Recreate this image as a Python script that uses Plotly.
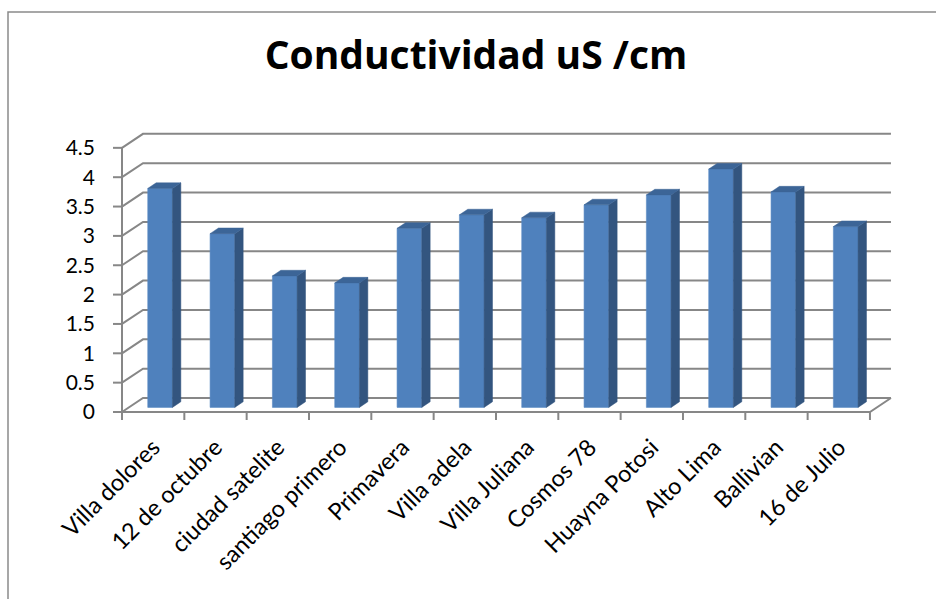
import plotly.graph_objects as go

# Data
categories = ["Villa dolores", "12 de octubre", "ciudad satelite", "santiago primero",
              "Primavera", "Villa adela", "Villa Juliana", "Cosmos 78",
              "Huayna Potosi", "Alto Lima", "Ballivian", "16 de Julio"]
conductividad = [3.73, 2.96, 2.24, 2.12, 3.05, 3.28, 3.23, 3.45, 3.62, 4.06, 3.67, 3.08]
y_ticks = [0, 0.5, 1, 1.5, 2, 2.5, 3, 3.5, 4, 4.5]
y_tick_labels = ["0", "0.5", "1", "1.5", "2", "2.5", "3", "3.5", "4", "4.5"]
title_text = "Conductividad uS /cm"

# Geometry of the pseudo-3D box (pixels per data unit and depth offsets)
W, H = 936, 599
XU, YU = 62.33, 58.7
DX, DY = 21 / XU, 14 / YU          # back wall offset in data units
F0, F1 = 0.33, 0.73                # front / back depth fraction of each column
BW = 0.396                         # column width in category units
ML, MR, MT, MB = 110, 41, 125, 177
x0 = -0.5 - 12 / XU
x1 = x0 + (W - ML - MR) / XU
y0 = -10 / YU
y1 = y0 + (H - MT - MB) / YU

FRONT = "#4F81BD"
SIDE = "#33557F"
TOP = "#3C6597"
GRID = "#878787"

n = len(categories)
idx = list(range(n))
xb_back = n - 0.5 + DX
ymax = y_ticks[-1]

fig = go.Figure()

# Front faces of the columns
fig.add_trace(go.Bar(
    x=[i + F0 * DX for i in idx], y=conductividad, base=F0 * DY, width=BW,
    marker=dict(color=FRONT, line=dict(color="#5B8BC4", width=0.6)),
    hoverinfo="skip", showlegend=False,
))

# Side and top faces of the columns
dd = F1 - F0
sx, sy, tx, ty = [], [], [], []
for i, v in zip(idx, conductividad):
    xl = i + F0 * DX - BW / 2
    xr = i + F0 * DX + BW / 2
    b = F0 * DY
    sx += [xr, xr + dd * DX, xr + dd * DX, xr, xr, None]
    sy += [b, b + dd * DY, b + v + dd * DY, b + v, b, None]
    tx += [xl, xr, xr + dd * DX, xl + dd * DX, xl, None]
    ty += [b + v, b + v, b + v + dd * DY, b + v + dd * DY, b + v, None]
fig.add_trace(go.Scatter(x=sx, y=sy, mode="lines", fill="toself", fillcolor=SIDE,
                         line=dict(color=SIDE, width=0.5), hoverinfo="skip", showlegend=False))
fig.add_trace(go.Scatter(x=tx, y=ty, mode="lines", fill="toself", fillcolor=TOP,
                         line=dict(color=TOP, width=0.5), hoverinfo="skip", showlegend=False))

shapes = []
line_style = dict(color=GRID, width=2)
# Gridlines: diagonal on the side wall, then across the back wall
for t in y_ticks:
    shapes.append(dict(type="path", xref="x", yref="y", layer="below",
                       path=f"M {-0.5},{t} L {-0.5 + DX},{t + DY} L {xb_back},{t + DY}",
                       line=line_style))
    # y tick marks
    shapes.append(dict(type="line", xref="x", yref="y", layer="below",
                       x0=-0.5 - 9 / XU, x1=-0.5, y0=t, y1=t, line=line_style))
# Front vertical axis
shapes.append(dict(type="line", xref="x", yref="y", layer="below",
                   x0=-0.5, x1=-0.5, y0=0, y1=ymax, line=line_style))
# Floor front and right edges
shapes.append(dict(type="path", xref="x", yref="y", layer="below",
                   path=f"M {-0.5},0 L {n - 0.5},0 L {n - 0.5 + DX},{DY}",
                   line=line_style))
# Category boundary tick marks
for k in range(n + 1):
    shapes.append(dict(type="line", xref="x", yref="y", layer="below",
                       x0=k - 0.5, x1=k - 0.5, y0=0, y1=-8 / YU, line=line_style))

# Outer chart border (left and top edges)
def px_to_paper_x(px):
    return (px - ML) / (W - ML - MR)

def px_to_paper_y(py):
    return (H - MB - py) / (H - MT - MB)

shapes.append(dict(type="path", xref="paper", yref="paper", layer="below",
                   path=(f"M {px_to_paper_x(8)},{px_to_paper_y(H + 5)} "
                         f"L {px_to_paper_x(8)},{px_to_paper_y(12)} "
                         f"L {px_to_paper_x(W + 5)},{px_to_paper_y(12)}"),
                   line=dict(color="#8A8A8A", width=1.5)))

fig.update_layout(
    width=W, height=H,
    margin=dict(l=ML, r=MR, t=MT, b=MB),
    paper_bgcolor="white", plot_bgcolor="white",
    font=dict(family="Lato, 'Open Sans', sans-serif", color="black"),
    title=dict(text=f"<b>{title_text}</b>", x=476 / W, xanchor="center",
               y=1 - 55 / H, yanchor="middle", xref="container", yref="container",
               font=dict(family="'Open Sans', sans-serif", size=39, color="black")),
    shapes=shapes,
    showlegend=False,
    xaxis=dict(range=[x0, x1], showgrid=False, zeroline=False, showline=False,
               tickmode="array", tickvals=idx, ticktext=categories,
               tickangle=-45, ticks="", ticklabelstandoff=6,
               tickfont=dict(size=23.5)),
    yaxis=dict(range=[y0, y1], showgrid=False, zeroline=False, showline=False,
               tickmode="array", tickvals=y_ticks, ticktext=y_tick_labels,
               ticks="", ticklabelstandoff=14, tickfont=dict(size=21)),
)

fig.write_html("out.html")
